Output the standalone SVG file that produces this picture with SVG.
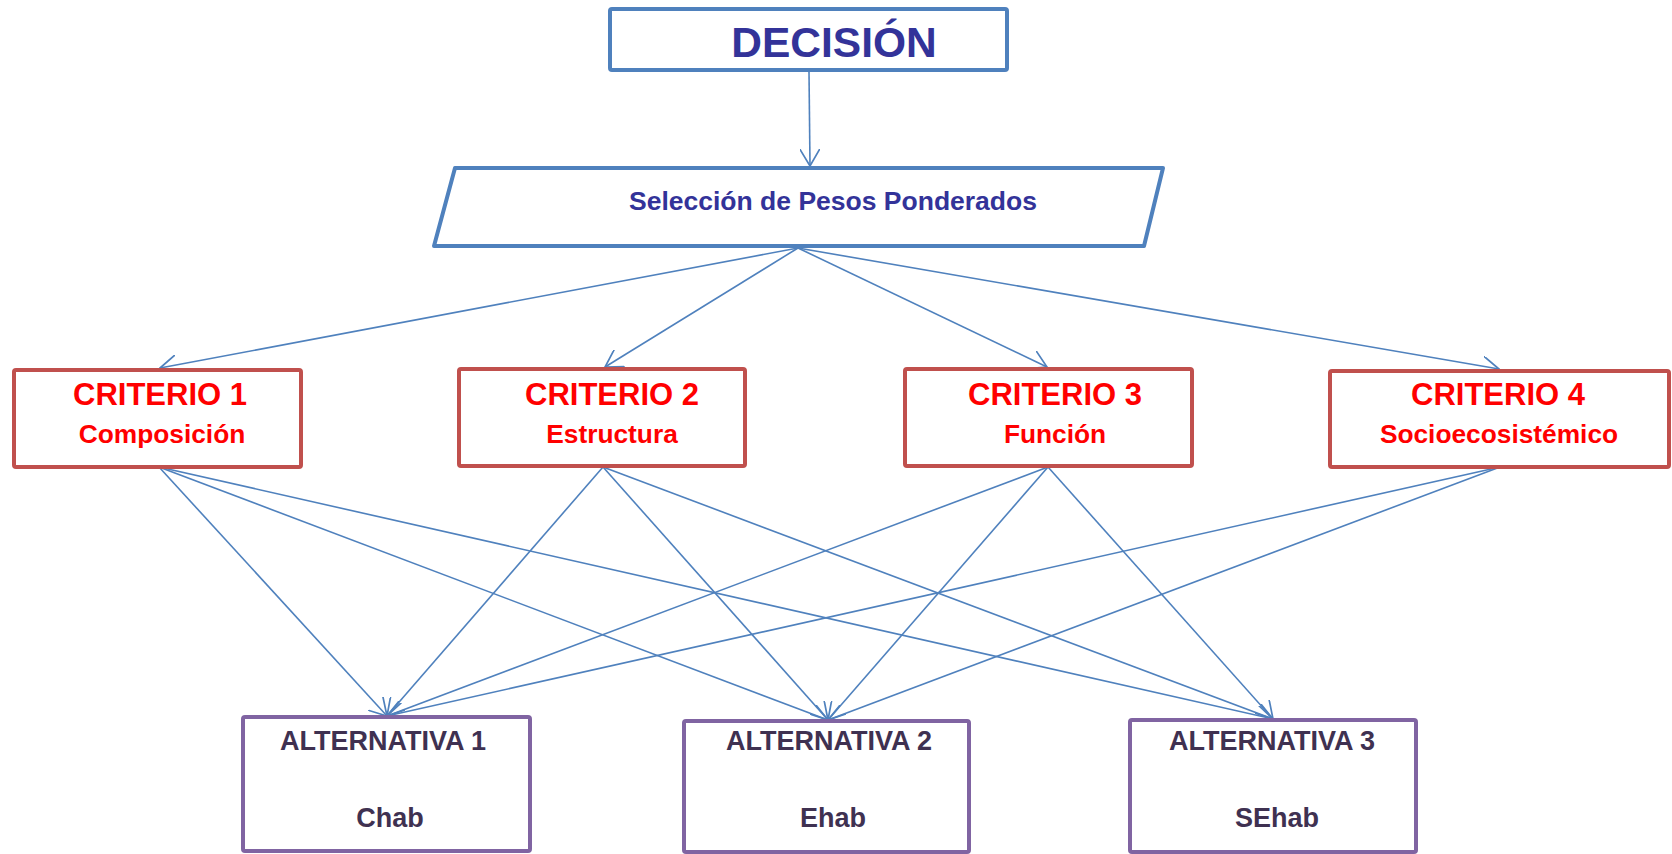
<svg xmlns="http://www.w3.org/2000/svg" width="1672" height="854" viewBox="0 0 1672 854">
<style>
.bg{fill:#ffffff}
.blue{fill:#ffffff;stroke:#4F81BD;stroke-width:4;stroke-linejoin:round}
.crit{fill:#ffffff;stroke:#C0504D;stroke-width:4;stroke-linejoin:round}
.alt{fill:#ffffff;stroke:#8064A2;stroke-width:4;stroke-linejoin:round}
text{font-family:"Liberation Sans",Arial,sans-serif;font-weight:bold;text-anchor:middle}
.t-dec{fill:#333399;font-size:42.5px}
.t-sel{fill:#333399;font-size:26.5px}
.t-c1{fill:#FF0000;font-size:31px}
.t-c2{fill:#FF0000;font-size:26.3px}
.t-a{fill:#3F3151;font-size:27px}
.conn line{stroke:#4F81BD;stroke-width:1.6;fill:none;marker-end:url(#arr)}
</style>
<defs>
<marker id="arr" viewBox="0 0 18 20" refX="17" refY="10" markerWidth="18" markerHeight="20" markerUnits="userSpaceOnUse" orient="auto">
<path d="M0,0 L17,10 L0,20" fill="none" stroke="#4F81BD" stroke-width="1.7"/>
</marker>
</defs>
<rect class="bg" x="0" y="0" width="1672" height="854"/>

<g id="connectors" class="conn">
<line x1="809" y1="72" x2="810" y2="166"/>
<line x1="798" y1="248" x2="160" y2="368"/>
<line x1="798" y1="248" x2="605" y2="367"/>
<line x1="798" y1="248" x2="1047" y2="367"/>
<line x1="798" y1="248" x2="1499" y2="369"/>
<line x1="159" y1="467" x2="387" y2="716"/>
<line x1="159" y1="467" x2="828" y2="720"/>
<line x1="159" y1="467" x2="1273" y2="719"/>
<line x1="603" y1="467" x2="387" y2="716"/>
<line x1="603" y1="467" x2="828" y2="720"/>
<line x1="603" y1="467" x2="1273" y2="719"/>
<line x1="1048" y1="467" x2="387" y2="716"/>
<line x1="1048" y1="467" x2="828" y2="720"/>
<line x1="1048" y1="467" x2="1273" y2="719"/>
<line x1="1500" y1="467" x2="387" y2="716"/>
<line x1="1500" y1="467" x2="828" y2="720"/>
</g>

<g id="decision">
<rect class="blue" x="610" y="9" width="397" height="61" rx="2"/>
<text class="t-dec" x="834" y="57">DECISIÓN</text>
</g>

<g id="seleccion">
<polygon class="blue" points="455,168 1163,168 1144,246 434,246"/>
<text class="t-sel" x="833" y="210">Selección de Pesos Ponderados</text>
</g>

<g id="criterio1">
<rect class="crit" x="14" y="370" width="287" height="97" rx="2"/>
<text class="t-c1" x="160" y="405">CRITERIO 1</text>
<text class="t-c2" x="162" y="443">Composición</text>
</g>

<g id="criterio2">
<rect class="crit" x="459" y="369" width="286" height="97" rx="2"/>
<text class="t-c1" x="612" y="405">CRITERIO 2</text>
<text class="t-c2" x="612" y="443">Estructura</text>
</g>

<g id="criterio3">
<rect class="crit" x="905" y="369" width="287" height="97" rx="2"/>
<text class="t-c1" x="1055" y="405">CRITERIO 3</text>
<text class="t-c2" x="1055" y="443">Función</text>
</g>

<g id="criterio4">
<rect class="crit" x="1330" y="371" width="339" height="96" rx="2"/>
<text class="t-c1" x="1498" y="405">CRITERIO 4</text>
<text class="t-c2" x="1499" y="443">Socioecosistémico</text>
</g>

<g id="alternativa1">
<rect class="alt" x="243" y="717" width="287" height="134" rx="2"/>
<text class="t-a" x="383" y="750">ALTERNATIVA 1</text>
<text class="t-a" x="390" y="827">Chab</text>
</g>

<g id="alternativa2">
<rect class="alt" x="684" y="721" width="285" height="131" rx="2"/>
<text class="t-a" x="829" y="750">ALTERNATIVA 2</text>
<text class="t-a" x="833" y="827">Ehab</text>
</g>

<g id="alternativa3">
<rect class="alt" x="1130" y="720" width="286" height="132" rx="2"/>
<text class="t-a" x="1272" y="750">ALTERNATIVA 3</text>
<text class="t-a" x="1277" y="827">SEhab</text>
</g>
</svg>
